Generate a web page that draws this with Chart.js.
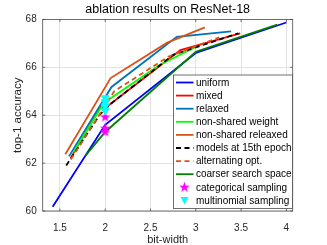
<!DOCTYPE html>
<html>
<head>
<meta charset="utf-8">
<script src="https://cdn.jsdelivr.net/npm/chart.js@4/dist/chart.umd.min.js"></script>
<style>
html, body { margin: 0; padding: 0; background: #fff; }
</style>
</head>
<body>
<canvas id="chart" width="327" height="245"></canvas>
<script>
// values, [bit-width, top-1 accuracy]
const uniform = [[1.42, 60.18], [2.0, 63.6], [3.0, 66.6], [4.0, 67.87]];
const mixed = [[1.62, 62.22], [1.95, 64.35], [2.0, 64.3], [2.83, 66.72], [3.49, 67.42]];
const relaxed = [[1.6, 62.28], [2.07, 65.18], [2.79, 67.27], [3.39, 67.5]];
const nonSharedWeight = [[1.65, 62.45], [1.95, 64.3], [2.0, 64.55], [2.6, 66.1], [3.0, 66.85]];
const nonSharedRelaxed = [[1.56, 62.37], [2.06, 65.55], [2.68, 67.02], [3.1, 67.67]];
const epoch15 = [[1.57, 61.9], [1.94, 64.02], [2.05, 64.44], [2.75, 66.52], [3.47, 67.42]];
const alternating = [[1.62, 62.15], [1.95, 64.1], [2.1, 65.0], [2.7, 66.45], [3.26, 67.25]];
const coarser = [[1.78, 62.3], [2.0, 63.3], [3.0, 66.65], [3.9, 67.78]];
const categorical = [[2.0, 63.92], [2.0, 63.45], [2.0, 63.3]];
const multinomial = [[2.0, 64.72], [2.0, 64.55], [2.0, 64.38], [2.0, 64.2]];

const xTicks = [1.5, 2, 2.5, 3, 3.5, 4];
const yTicks = [60, 62, 64, 66, 68];

const FONT = "'Liberation Sans', Arial, Helvetica, sans-serif";

function makeStar(r, color) {
    const size = Math.ceil(r * 2) + 2;
    const c = document.createElement("canvas");
    c.width = size;
    c.height = size;
    const g = c.getContext("2d");
    g.beginPath();
    for (let i = 0; i < 10; i++) {
        const a = -Math.PI / 2 + i * Math.PI / 5;
        const rr = i % 2 ? r * 0.42 : r;
        g.lineTo(size / 2 + rr * Math.cos(a), size / 2 + rr * Math.sin(a));
    }
    g.closePath();
    g.fillStyle = color;
    g.fill();
    return c;
}

const starImg = makeStar(5.5, "#FF00FF");

function toXY(arr) {
    return arr.map(p => ({ x: p[0], y: p[1] }));
}

function lineSet(label, data, color, dash) {
    return {
        label,
        data: toXY(data),
        borderColor: color,
        backgroundColor: color,
        borderWidth: 1.8,
        borderDash: dash || [],
        pointRadius: 0,
        showLine: true,
        fill: false,
        tension: 0
    };
}

const datasets = [
    lineSet("uniform", uniform, "#0000FF"),
    lineSet("mixed", mixed, "#FF0000"),
    lineSet("relaxed", relaxed, "#0072BD"),
    lineSet("non-shared weight", nonSharedWeight, "#00FF00"),
    lineSet("non-shared releaxed", nonSharedRelaxed, "#D95319"),
    lineSet("models at 15th epoch", epoch15, "#000000", [5, 3.5]),
    lineSet("alternating opt.", alternating, "#D95319", [5, 3.5]),
    lineSet("coarser search space", coarser, "#008000"),
    {
        label: "categorical sampling",
        data: toXY(categorical),
        showLine: false,
        pointStyle: starImg,
        pointRadius: 5.5,
        borderColor: "#FF00FF",
        backgroundColor: "#FF00FF"
    },
    {
        label: "multinomial sampling",
        data: toXY(multinomial),
        showLine: false,
        pointStyle: "triangle",
        rotation: 180,
        pointRadius: 4.5,
        borderWidth: 1,
        borderColor: "#00FFFF",
        backgroundColor: "#00FFFF"
    }
];
// later series on top, as in the original plot
datasets.forEach((d, i) => { d.order = datasets.length - i; });

const boxPlugin = {
    id: "boxPlugin",
    afterDatasetsDraw(chart) {
        const { ctx, chartArea: a, scales } = chart;
        ctx.save();
        ctx.strokeStyle = "#4d4d4d";
        ctx.lineWidth = 0.8;
        ctx.strokeRect(a.left, a.top, a.right - a.left, a.bottom - a.top);
        ctx.beginPath();
        xTicks.forEach(v => {
            const px = scales.x.getPixelForValue(v);
            ctx.moveTo(px, a.bottom); ctx.lineTo(px, a.bottom - 2.5);
            ctx.moveTo(px, a.top); ctx.lineTo(px, a.top + 2.5);
        });
        yTicks.forEach(v => {
            const py = scales.y.getPixelForValue(v);
            ctx.moveTo(a.left, py); ctx.lineTo(a.left + 2.5, py);
            ctx.moveTo(a.right, py); ctx.lineTo(a.right - 2.5, py);
        });
        ctx.stroke();

        // title, centred over the plot box
        ctx.fillStyle = "#000";
        ctx.font = "12.5px " + FONT;
        ctx.textAlign = "center";
        ctx.textBaseline = "middle";
        ctx.fillText("ablation results on ResNet-18", (a.left + a.right) / 2, 10);
        ctx.restore();
    },
    afterDraw(chart) {
        const ctx = chart.ctx;
        const left = 173.5, top = 75, right = 292.5, bottom = 208.5;
        ctx.save();
        ctx.fillStyle = "#fff";
        ctx.fillRect(left, top, right - left, bottom - top);
        ctx.strokeStyle = "#4d4d4d";
        ctx.lineWidth = 0.8;
        ctx.strokeRect(left, top, right - left, bottom - top);
        ctx.font = "10px " + FONT;
        ctx.textBaseline = "middle";
        chart.data.datasets.forEach((d, i) => {
            const y = 82.5 + i * 13.1;
            if (d.showLine === false) {
                if (d.pointStyle === "triangle") {
                    ctx.fillStyle = d.backgroundColor;
                    ctx.beginPath();
                    ctx.moveTo(180.5, y - 3.5);
                    ctx.lineTo(188.5, y - 3.5);
                    ctx.lineTo(184.5, y + 4);
                    ctx.closePath();
                    ctx.fill();
                } else {
                    ctx.drawImage(d.pointStyle, 184.5 - d.pointStyle.width / 2, y - d.pointStyle.height / 2);
                }
            } else {
                ctx.strokeStyle = d.borderColor;
                ctx.lineWidth = d.borderWidth;
                ctx.setLineDash(d.borderDash);
                ctx.beginPath();
                ctx.moveTo(176, y);
                ctx.lineTo(193.5, y);
                ctx.stroke();
                ctx.setLineDash([]);
            }
            ctx.fillStyle = "#000";
            ctx.fillText(d.label, 196, y + 0.5);
        });
        ctx.restore();
    }
};

new Chart(document.getElementById("chart"), {
    type: "scatter",
    data: { datasets },
    options: {
        responsive: false,
        animation: false,
        devicePixelRatio: 1,
        layout: { padding: { right: 34.3, left: 0, top: 19.4, bottom: 0 } },
        scales: {
            x: {
                type: "linear",
                min: 1.31,
                max: 4.07,
                afterBuildTicks: s => { s.ticks = xTicks.map(v => ({ value: v })); },
                afterFit: s => { s.height = 34; },
                ticks: {
                    autoSkip: false,
                    maxRotation: 0,
                    padding: 11,
                    color: "#262626",
                    font: { size: 10, family: FONT },
                    callback: v => String(v)
                },
                grid: { color: "#e3e3e3", drawTicks: false },
                border: { display: false },
                title: {
                    display: true,
                    text: "bit-width",
                    color: "#262626",
                    font: { size: 11, family: FONT, lineHeight: 1 },
                    padding: { top: 0, bottom: 0 }
                }
            },
            y: {
                min: 60,
                max: 68,
                afterBuildTicks: s => { s.ticks = yTicks.map(v => ({ value: v })); },
                afterFit: s => { s.width = 42.7; },
                ticks: {
                    padding: 6,
                    color: "#262626",
                    font: { size: 10, family: FONT }
                },
                grid: { color: "#e3e3e3", drawTicks: false },
                border: { display: false },
                title: {
                    display: true,
                    text: "top-1 accuracy",
                    color: "#262626",
                    font: { size: 11.5, family: FONT, lineHeight: 1 },
                    padding: { top: 12.5, bottom: 12.5 }
                }
            }
        },
        plugins: {
            legend: { display: false },
            tooltip: { enabled: false },
            title: { display: false }
        }
    },
    plugins: [boxPlugin]
});
</script>
</body>
</html>
